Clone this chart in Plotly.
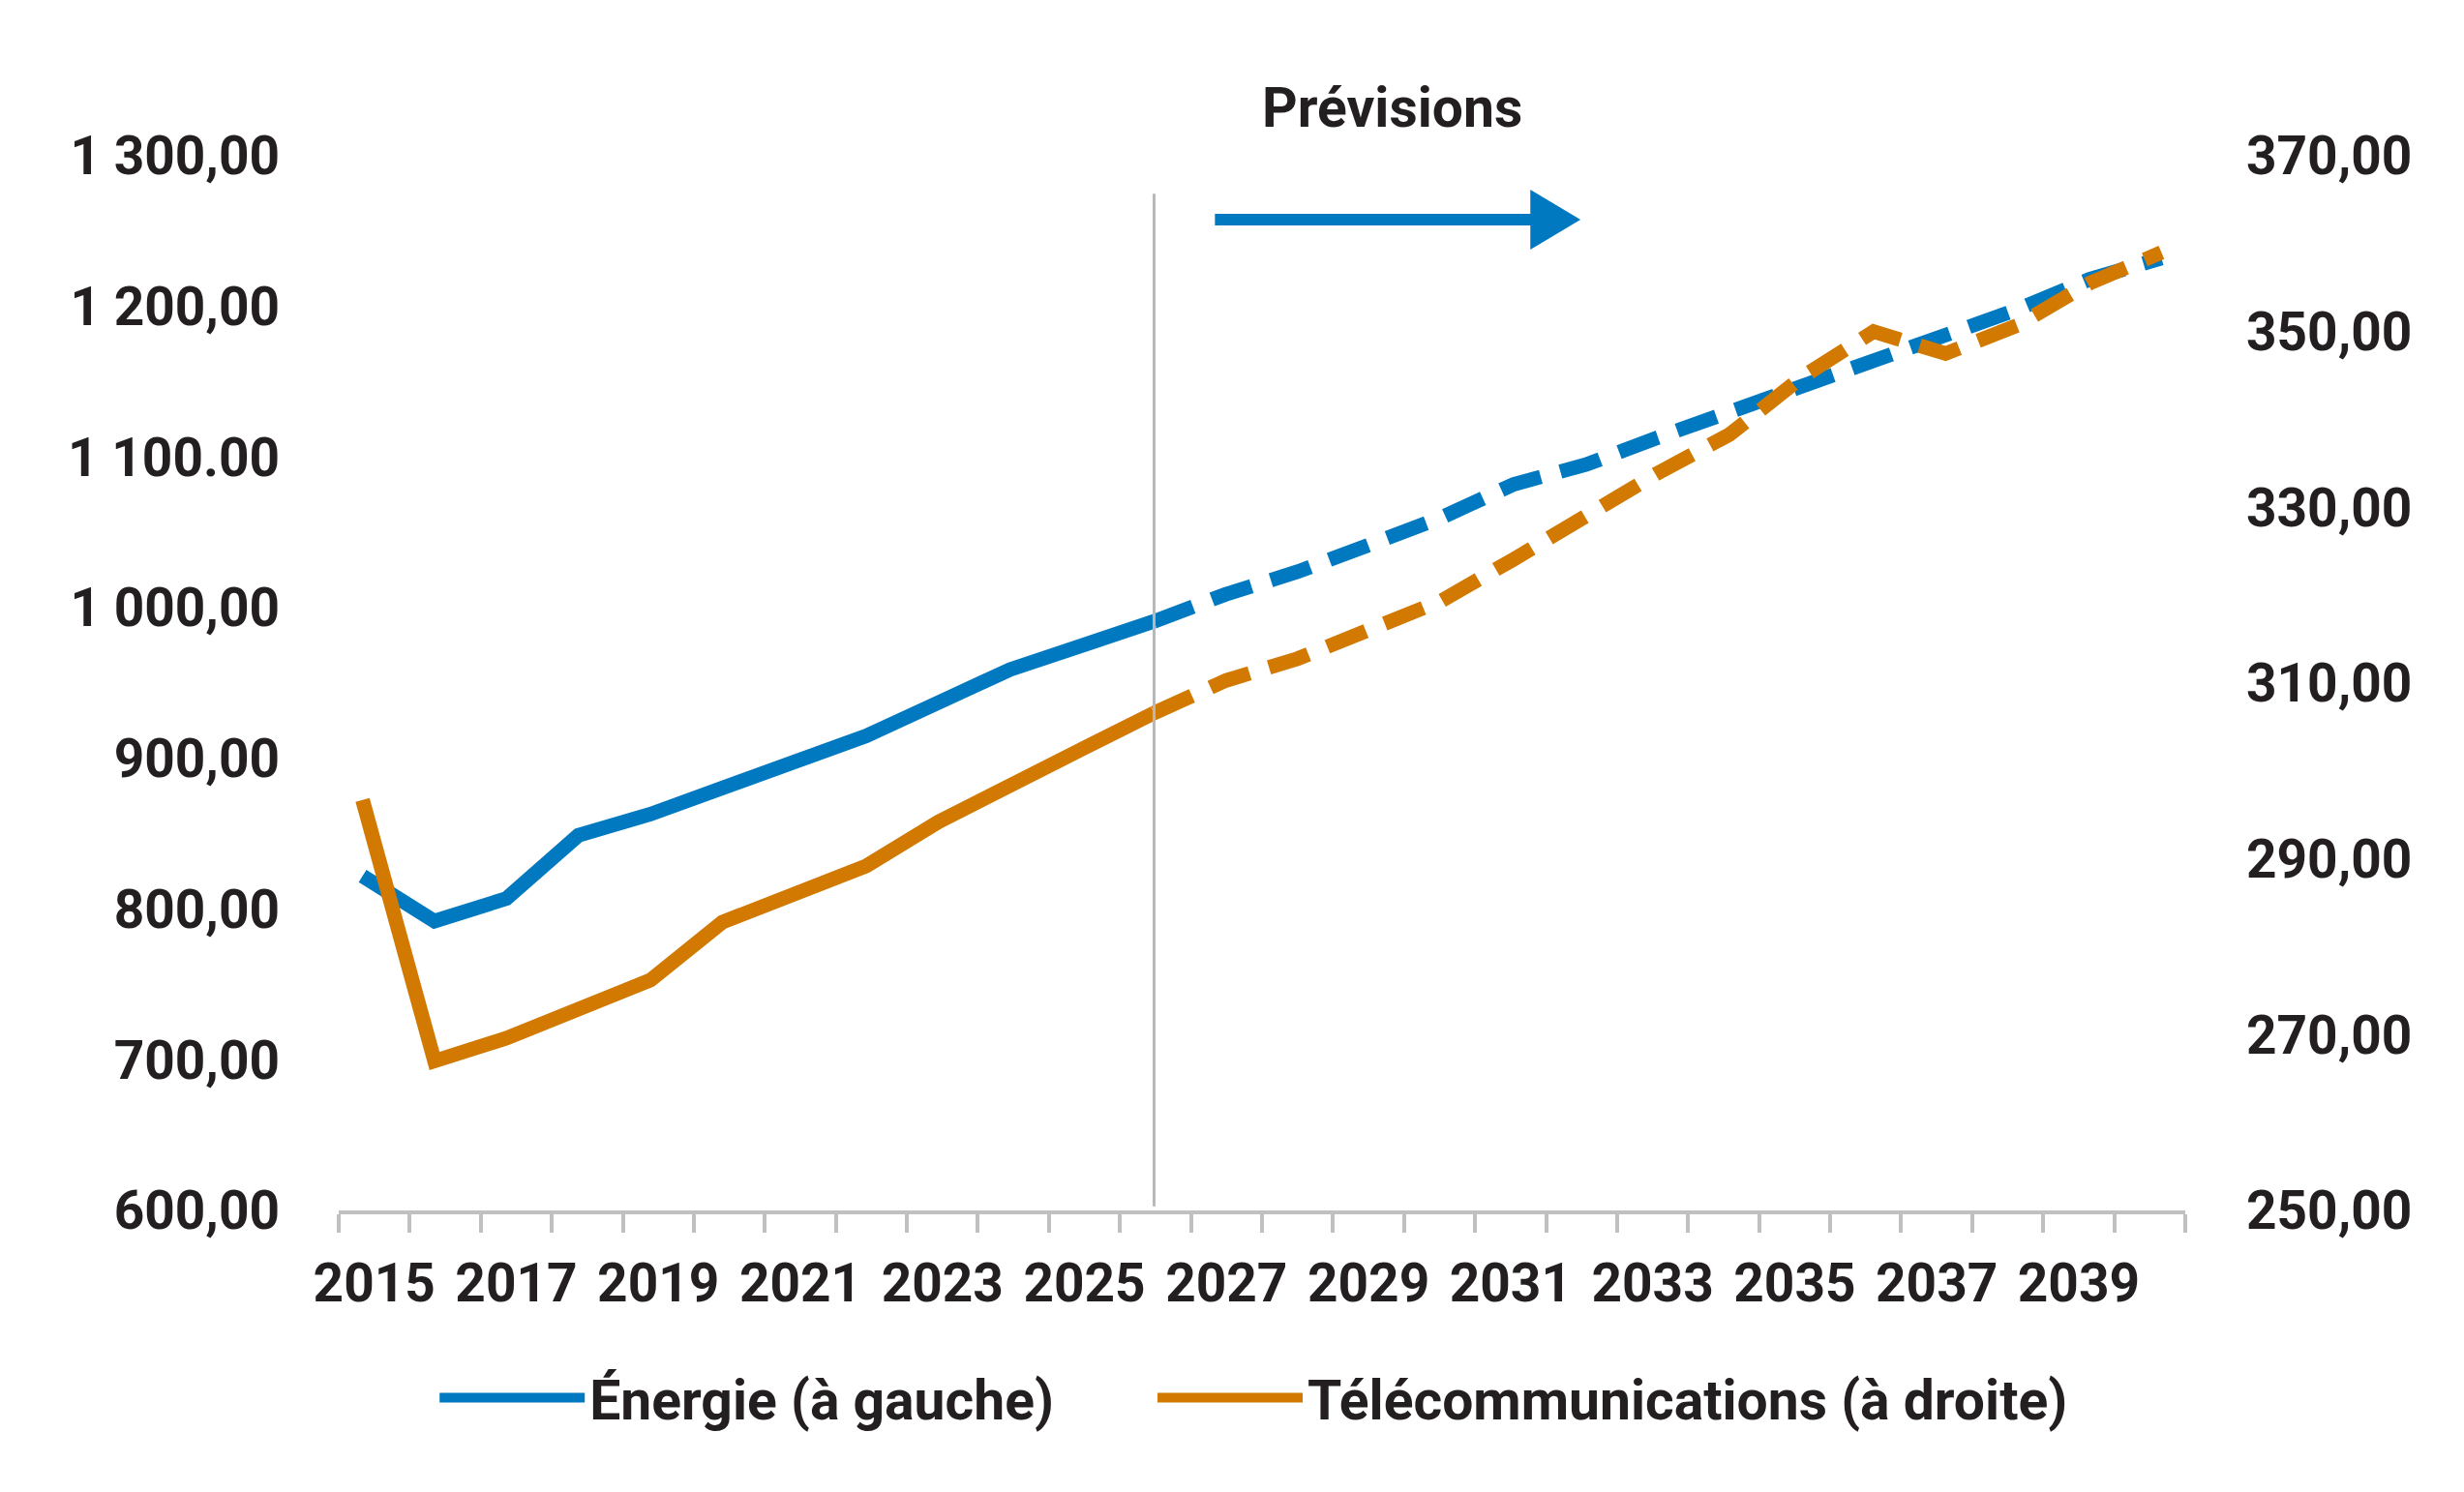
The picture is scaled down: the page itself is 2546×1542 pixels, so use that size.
import plotly.graph_objects as go

# years on the chart, history up to 2026 then forecast
years = list(range(2015, 2041))
hist_years = years[:12]
prev_years = years[11:]

# Énergie (left axis)
energie_hist = [822, 792, 807, 849, 863, 880, 896, 915, 937, 959, 975, 991]
energie_prev = [991, 1009, 1024, 1042, 1060, 1082, 1095, 1113, 1130, 1146,
                1162, 1180, 1198, 1218, 1232]

# Télécommunications (right axis)
telecom_hist = [296.7, 267.0, 269.6, 272.9, 276.2, 282.8, 286.0, 289.2,
                294.2, 298.5, 302.5, 306.6]
telecom_prev = [306.6, 310.3, 312.8, 316.2, 319.4, 324.1, 329.0, 333.9,
                338.3, 344.8, 350.0, 347.5, 350.7, 355.5, 359.0]

left_ticks = [600, 700, 800, 900, 1000, 1100, 1200, 1300]
left_labels = ["600,00", "700,00", "800,00", "900,00", "1 000,00",
               "1 100.00", "1 200,00", "1 300,00"]
right_ticks = [250, 270, 290, 310, 330, 350, 370]
right_labels = ["250,00", "270,00", "290,00", "310,00", "330,00",
                "350,00", "370,00"]
year_labels = [str(y) for y in years[::2]]

forecast_start = 2026

BLUE = "#0079C1"
ORANGE = "#D17900"
TEXT = "#231F20"
GREY = "#C0C0C0"
FONT = "Roboto, Liberation Sans, sans-serif"
DASH = "43px,21px"
TICK_FONT = dict(family=FONT, size=55, color=TEXT, weight="bold")
LEGEND_FONT = dict(family=FONT, size=57, color=TEXT, weight="bold")

fig = go.Figure()

fig.add_trace(go.Scatter(x=hist_years, y=energie_hist, name="Énergie (à gauche)",
                         mode="lines", line=dict(color=BLUE, width=15), legend="legend"))
fig.add_trace(go.Scatter(x=hist_years, y=telecom_hist, name="Télécommunications (à droite)",
                         mode="lines", line=dict(color=ORANGE, width=15), yaxis="y2",
                         legend="legend2"))
fig.add_trace(go.Scatter(x=prev_years, y=energie_prev, mode="lines", showlegend=False,
                         line=dict(color=BLUE, width=15, dash=DASH)))
fig.add_trace(go.Scatter(x=prev_years, y=telecom_prev, mode="lines", showlegend=False,
                         line=dict(color=ORANGE, width=15, dash=DASH), yaxis="y2"))
# empty trace so the year axis gets drawn
fig.add_trace(go.Scatter(x=[years[0]], y=[None], xaxis="x2", showlegend=False,
                         hoverinfo="skip", mode="lines"))

# forecast separator and arrow
fig.add_shape(type="line", xref="x", yref="paper", x0=forecast_start, x1=forecast_start,
              y0=0.004, y1=0.964, line=dict(color="#B8B8B8", width=3))
fig.add_shape(type="line", xref="paper", yref="paper", x0=0.4745, x1=0.647,
              y0=0.9394, y1=0.9394, line=dict(color=BLUE, width=12))
fig.add_shape(type="path", xref="paper", yref="paper",
              path="M 0.6453 0.968 L 0.6725 0.9394 L 0.6453 0.911 Z",
              fillcolor=BLUE, line=dict(color=BLUE, width=0))
fig.add_annotation(text="<b>Prévisions</b>", xref="paper", yref="paper",
                   x=0.5705, y=1.045, xanchor="center", yanchor="middle",
                   showarrow=False, font=dict(family=FONT, size=57, color=TEXT))

fig.update_layout(
    width=2546, height=1542,
    margin=dict(l=342, r=296, t=153, b=299),
    paper_bgcolor="white", plot_bgcolor="white",
    font=dict(family=FONT, color=TEXT, size=55),
    xaxis=dict(range=[2014.669, 2040.331], visible=False),
    xaxis2=dict(overlaying="x", anchor="y", side="bottom",
                range=[2014.5, 2040.5], tickvals=years[::2], ticktext=year_labels,
                tickangle=0, ticks="", showgrid=False, zeroline=False,
                showline=True, linecolor=GREY, linewidth=4,
                minor=dict(ticks="outside", ticklen=19, tickwidth=4, tickcolor=GREY,
                           tick0=2014.5, dtick=1, showgrid=False),
                tickfont=TICK_FONT, ticklabelstandoff=24),
    yaxis=dict(range=[600, 1300], tickvals=left_ticks, ticktext=left_labels,
               showgrid=False, zeroline=False, showline=False, ticks="",
               tickfont=TICK_FONT, ticklabelstandoff=60),
    yaxis2=dict(overlaying="y", side="right", anchor="x",
                range=[250, 370], tickvals=right_ticks, ticktext=right_labels,
                showgrid=False, zeroline=False, showline=False, ticks="",
                tickfont=TICK_FONT, ticklabelstandoff=62),
    legend=dict(orientation="h", x=0.052, xanchor="left", y=-0.178, yanchor="middle",
                font=LEGEND_FONT, itemwidth=150),
    legend2=dict(orientation="h", x=0.4408, xanchor="left", y=-0.178, yanchor="middle",
                 font=LEGEND_FONT, itemwidth=150),
    showlegend=True,
)

fig.write_html("out.html")
